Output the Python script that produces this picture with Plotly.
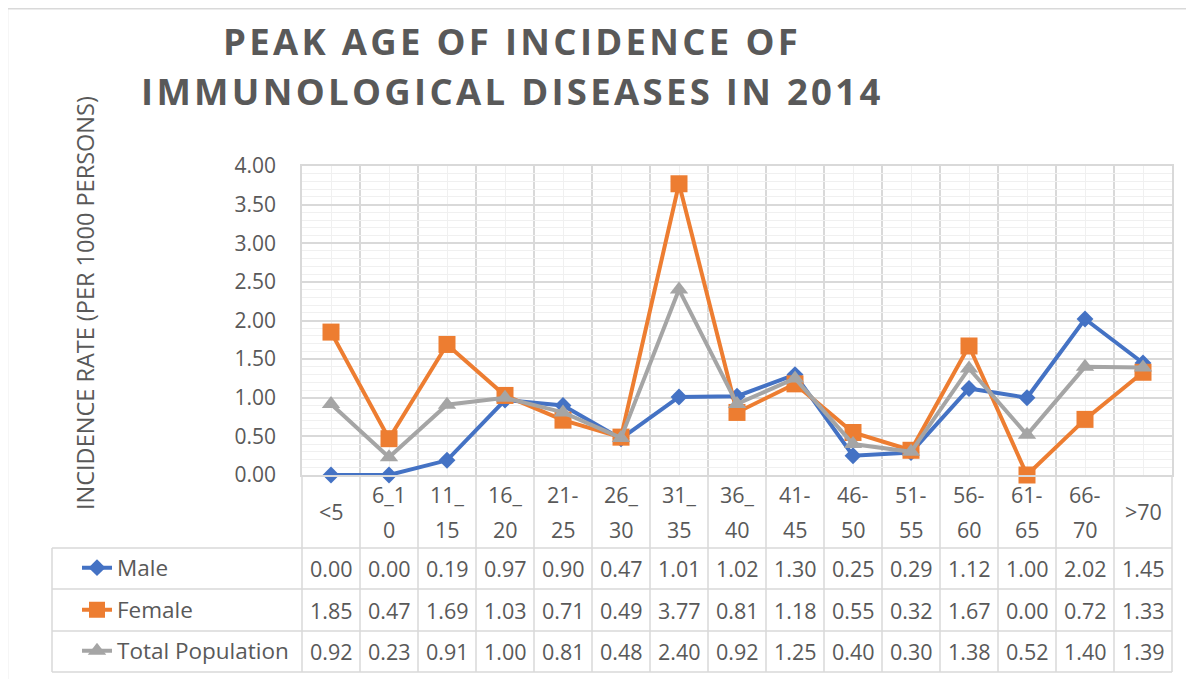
import plotly.graph_objects as go

categories = ["<5", "6_10", "11_15", "16_20", "21-25", "26_30", "31_35", "36_40",
              "41-45", "46-50", "51-55", "56-60", "61-65", "66-70", ">70"]
male = [0.00, 0.00, 0.19, 0.97, 0.90, 0.47, 1.01, 1.02, 1.30, 0.25, 0.29, 1.12, 1.00, 2.02, 1.45]
female = [1.85, 0.47, 1.69, 1.03, 0.71, 0.49, 3.77, 0.81, 1.18, 0.55, 0.32, 1.67, 0.00, 0.72, 1.33]
total = [0.92, 0.23, 0.91, 1.00, 0.81, 0.48, 2.40, 0.92, 1.25, 0.40, 0.30, 1.38, 0.52, 1.40, 1.39]
series_names = ["Male", "Female", "Total Population"]
title_lines = ["PEAK AGE OF INCIDENCE OF", "IMMUNOLOGICAL DISEASES IN 2014"]
y_title = "INCIDENCE RATE (PER 1000 PERSONS)"

OFF = 8  # page body margin
W, H = 1194 - OFF, 679 - OFF
# layout positions given in screen pixels
L, R, T, B = 302, 1172, 166, 475
PW, PH = R - L, B - T
FONT = "Open Sans"
TXT = "#595959"
GRID = "#D9D9D9"
MINOR = "#F0F0F0"


def px_x(px):
    return (px - L) / PW


def px_y(py):
    return (B - py) / PH


colors = ["#4472C4", "#ED7D31", "#A5A5A5"]
symbols = ["diamond", "square", "triangle-up"]
sizes = [13, 17, 16]
values = [male, female, total]
xs = list(range(len(categories)))

fig = go.Figure()
for k, (name, vals) in enumerate(zip(series_names, values)):
    fig.add_trace(go.Scatter(
        x=xs, y=vals, name=name, mode="lines+markers",
        line=dict(color=colors[k], width=4),
        marker=dict(symbol=symbols[k], size=sizes[k], color=colors[k]),
        cliponaxis=False,
        legend="legend" if k == 0 else f"legend{k + 1}",
    ))

row_centers = [568, 610, 651]
legend_left = 77
layout_legends = {}
for k in range(3):
    key = "legend" if k == 0 else f"legend{k + 1}"
    layout_legends[key] = dict(
        x=px_x(legend_left), y=px_y(row_centers[k]), xanchor="left", yanchor="middle",
        bgcolor="rgba(0,0,0,0)", font=dict(family=FONT, size=22.5, color=TXT),
        itemsizing="trace",
    )

annotations = []
for i, line in enumerate(title_lines):
    annotations.append(dict(
        text=f'<b><span style="letter-spacing:3.3px">{line}</span></b>',
        x=px_x(512), y=px_y([41, 91][i]), xref="paper", yref="paper",
        xanchor="center", yanchor="middle", showarrow=False,
        font=dict(family=FONT, size=36.5, color=TXT),
    ))
annotations.append(dict(
    text=y_title, textangle=-90, x=px_x(85), y=px_y(303), xref="paper", yref="paper",
    xanchor="center", yanchor="middle", showarrow=False,
    font=dict(family=FONT, size=23.5, color=TXT),
))
for i, c in enumerate(categories):
    parts = [c] if len(c) <= 3 else [c[:3], c[3:]]
    ys = [511] if len(parts) == 1 else [495, 529]
    for part, py in zip(parts, ys):
        annotations.append(dict(
            text=part, x=i, y=px_y(py), xref="x", yref="paper",
            xanchor="center", yanchor="middle", showarrow=False,
            font=dict(family=FONT, size=21.5, color=TXT),
        ))
for k, vals in enumerate(values):
    for i, v in enumerate(vals):
        annotations.append(dict(
            text=f"{v:.2f}", x=i, y=px_y(row_centers[k]), xref="x", yref="paper",
            xanchor="center", yanchor="middle", showarrow=False,
            font=dict(family=FONT, size=21.5, color=TXT),
        ))

shapes = []
shapes.append(dict(type="rect", xref="paper", yref="paper",
                   x0=px_x(OFF - 0.5), y0=px_y(OFF + 0.75), x1=px_x(1260), y1=px_y(740),
                   line=dict(color=GRID, width=1.5), fillcolor="rgba(0,0,0,0)", layer="below"))
n = len(categories)
table_bottom = 672
for i in range(n + 1):
    xp = i / n
    shapes.append(dict(type="line", xref="paper", yref="paper",
                       x0=xp, x1=xp, y0=0, y1=px_y(table_bottom),
                       line=dict(color=GRID, width=1.5)))
for py in [548, 589, 631, 672]:
    shapes.append(dict(type="line", xref="paper", yref="paper",
                       x0=px_x(52), x1=1, y0=px_y(py), y1=px_y(py),
                       line=dict(color=GRID, width=1.5)))
shapes.append(dict(type="line", xref="paper", yref="paper",
                   x0=px_x(52), x1=px_x(52), y0=px_y(548), y1=px_y(table_bottom),
                   line=dict(color=GRID, width=1.5)))

fig.update_layout(
    width=W, height=H,
    margin=dict(l=L - OFF, r=1194 - R, t=T - OFF, b=679 - B, autoexpand=False),
    paper_bgcolor="white", plot_bgcolor="white",
    font=dict(family=FONT, color=TXT),
    showlegend=True,
    annotations=annotations,
    shapes=shapes,
    xaxis=dict(
        range=[-0.5, n - 0.5], tickmode="array", tickvals=xs, showticklabels=False,
        showgrid=True, gridcolor=MINOR, gridwidth=1, zeroline=False, ticks="",
        minor=dict(tickmode="array", tickvals=[i - 0.5 for i in range(n + 1)],
                   showgrid=True, gridcolor=GRID, gridwidth=1.5),
        showline=True, linecolor=GRID, linewidth=1.5, mirror=True, fixedrange=True,
    ),
    yaxis=dict(
        range=[0, 4], dtick=0.5, tick0=0, tickformat=".2f",
        showgrid=True, gridcolor=GRID, gridwidth=1.5, zeroline=False,
        minor=dict(dtick=0.1, showgrid=True, gridcolor=MINOR, gridwidth=1),
        showline=True, linecolor=GRID, linewidth=1.5, mirror=True,
        ticks="", ticklabelstandoff=20,
        tickfont=dict(family=FONT, size=21, color=TXT), fixedrange=True,
    ),
    **layout_legends,
)

fig.write_html("out.html")
